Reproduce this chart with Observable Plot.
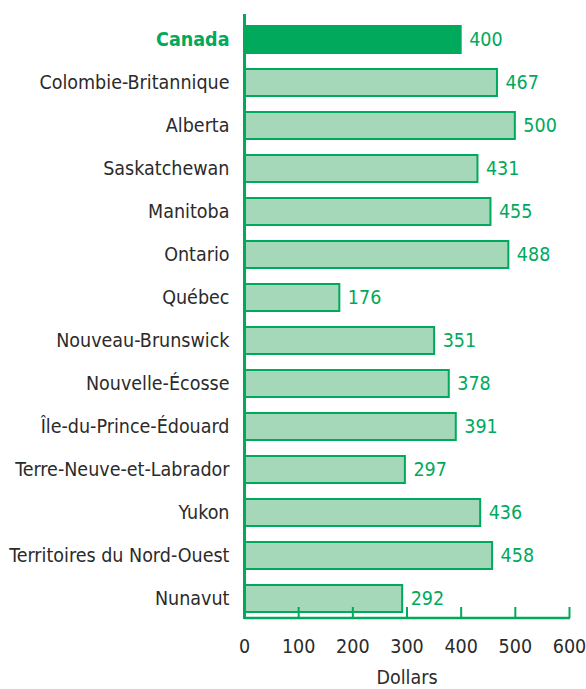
<!DOCTYPE html>
<html>
<head>
<meta charset="utf-8">
<script src="https://cdn.jsdelivr.net/npm/d3@7"></script>
<script src="https://cdn.jsdelivr.net/npm/@observablehq/plot@0.6"></script>
<style>
  html, body { margin: 0; padding: 0; background: #fff; }
  #chart svg { display: block; }
</style>
</head>
<body>
<div id="chart"></div>
<script>
const regions = ["Canada", "Colombie-Britannique", "Alberta", "Saskatchewan", "Manitoba", "Ontario", "Québec", "Nouveau-Brunswick", "Nouvelle-Écosse", "Île-du-Prince-Édouard", "Terre-Neuve-et-Labrador", "Yukon", "Territoires du Nord-Ouest", "Nunavut"];
const values = [400, 467, 500, 431, 455, 488, 176, 351, 378, 391, 297, 436, 458, 292];
const xTicks = [0, 100, 200, 300, 400, 500, 600];
const xLabel = "Dollars";

const data = regions.map((r, i) => ({region: r, value: values[i]}));
const green = "#00a95c";
const lightFill = "#a4d8b9";
const textColor = "#2b2b2b";
const font = "'Liberation Sans Narrow', 'DejaVu Sans Condensed', 'Roboto', sans-serif";
const fs = 19.5;

const W = 586, H = 689;
const mTop = 21, mBottom = 71, mLeft = 244, mRight = 17;
const frameH = H - mTop - mBottom;

const chart = Plot.plot({
  width: W,
  height: H,
  marginTop: mTop,
  marginBottom: mBottom,
  marginLeft: mLeft,
  marginRight: mRight,
  style: {fontFamily: font, fontSize: fs + "px", color: textColor, background: "#fff"},
  x: {domain: [0, 600]},
  y: {domain: regions, paddingInner: 0.37, paddingOuter: 0.1},
  marks: [
    Plot.barX(data, {
      x: "value", y: "region",
      fill: d => d.region === "Canada" ? green : lightFill,
      stroke: green, strokeWidth: 2
    }),
    Plot.ruleX(xTicks, {stroke: green, strokeWidth: 2, insetTop: frameH - 11}),
    Plot.ruleX([0], {stroke: green, strokeWidth: 3, insetTop: -7, insetBottom: -1}),
    Plot.text(data, {
      x: "value", y: "region", text: d => String(d.value),
      textAnchor: "start", dx: 8, fill: green, fontSize: fs
    }),
    Plot.text(data.filter(d => d.region !== "Canada"), {
      y: "region", text: "region", frameAnchor: "left", textAnchor: "end",
      dx: -15, fill: textColor, fontSize: fs
    }),
    Plot.text(data.filter(d => d.region === "Canada"), {
      y: "region", text: "region", frameAnchor: "left", textAnchor: "end",
      dx: -15, fill: green, fontSize: fs, fontWeight: "bold"
    }),
    Plot.axisX({
      ticks: xTicks, tickSize: 0, tickPadding: 21, fontSize: fs,
      fill: textColor,
      label: xLabel, labelAnchor: "center", labelArrow: "none", labelOffset: 65
    }),
    Plot.axisY({ticks: [], label: null})
  ]
});

const sx = chart.scale("x");
d3.select(chart).append("line")
  .attr("x1", sx.apply(xTicks[0]))
  .attr("x2", sx.apply(xTicks[xTicks.length - 1]) + 1)
  .attr("y1", H - mBottom)
  .attr("y2", H - mBottom)
  .attr("stroke", green)
  .attr("stroke-width", 2.5);

document.getElementById("chart").appendChild(chart);
</script>
</body>
</html>
